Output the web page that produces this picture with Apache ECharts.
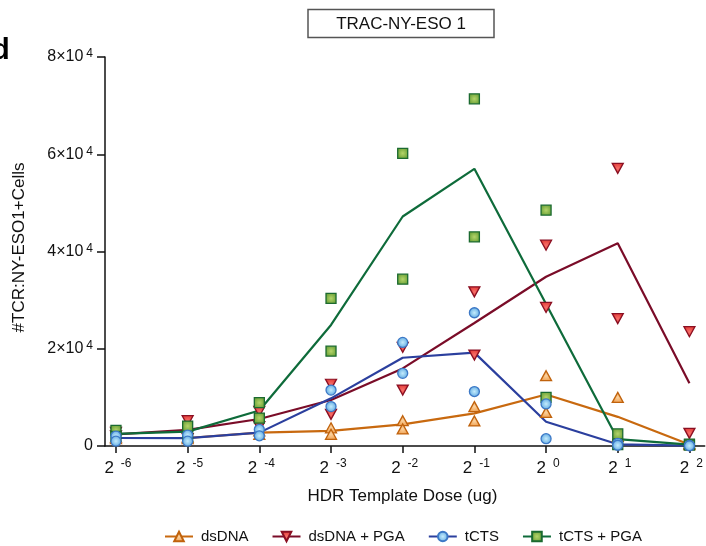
<!DOCTYPE html>
<html>
<head>
<meta charset="utf-8">
<script src="https://cdn.jsdelivr.net/npm/echarts@6/dist/echarts.min.js"></script>
<style>
  html, body { margin: 0; padding: 0; background: #fff; }
  #chart { width: 706px; height: 546px; }
</style>
</head>
<body>
<div id="chart"></div>
<script>
// HDR template dose, as powers of two (ug)
const doseExponents = [-6, -5, -4, -3, -2, -1, 0, 1, 2];

// Replicate counts of TCR:NY-ESO1+ cells (two donors per dose)
const dsDNA_rep1 = [1500, 1500, 2400, 3750, 5200, 8100, 14450, 10000, 500];
const dsDNA_rep2 = [1800, 1800, 3100, 2400, 3500, 5150, 6900, 2000, 300];
const dsDNA_mean = [1650, 1650, 2750, 3100, 4450, 6700, 10600, 6000, 300];

const dsPGA_rep1 = [2800, 5200, 7100, 12700, 20300, 31700, 41300, 57100, 23500];
const dsPGA_rep2 = [2100, 1500, 4000, 6500, 11500, 18700, 28500, 26200, 2600];
const dsPGA_mean = [2400, 3300, 5550, 9450, 15950, 25300, 34800, 41700, 12900];

const tCTS_rep1 = [2050, 2250, 3400, 11500, 21300, 27400, 8650, 550, 100];
const tCTS_rep2 = [1000, 1000, 2100, 8100, 14950, 11200, 1500, 150, 50];
const tCTS_mean = [1650, 1600, 2750, 9800, 18150, 19200, 5000, 350, 80];

const tPGA_rep1 = [3200, 4100, 8900, 30350, 60200, 71400, 48500, 2500, 400];
const tPGA_rep2 = [2000, 1900, 5750, 19500, 34300, 43000, 10000, 300, 200];
const tPGA_mean = [2500, 2950, 7300, 24900, 47200, 57000, 29200, 1400, 300];

const FONT = 'Liberation Sans, Arial, Helvetica, sans-serif';

function pairs(values) {
  return doseExponents.map((x, i) => [x, values[i]]);
}
function reps(a, b) {
  return pairs(a).concat(pairs(b));
}
function radial(inner, outer) {
  return {
    type: 'radial', x: 0.5, y: 0.5, r: 0.5,
    colorStops: [{ offset: 0, color: inner }, { offset: 1, color: outer }]
  };
}

const groups = [
  {
    name: 'dsDNA', mean: dsDNA_mean, r1: dsDNA_rep1, r2: dsDNA_rep2,
    line: '#C8690F', symbol: 'triangle', rotate: 0, size: [11, 10],
    fill: radial('#FBD3A0', '#F0A050'), border: '#C0620C', z: 3
  },
  {
    name: 'dsDNA + PGA', mean: dsPGA_mean, r1: dsPGA_rep1, r2: dsPGA_rep2,
    line: '#7A0C28', symbol: 'triangle', rotate: 180, size: [11, 10],
    fill: radial('#F7706A', '#E23A36'), border: '#8A0F22', z: 4
  },
  {
    name: 'tCTS', mean: tCTS_mean, r1: tCTS_rep1, r2: tCTS_rep2,
    line: '#2B3F9E', symbol: 'circle', rotate: 0, size: 10,
    fill: radial('#C4EBFC', '#5FAAE2'), border: '#3C78C6', z: 6
  },
  {
    name: 'tCTS + PGA', mean: tPGA_mean, r1: tPGA_rep1, r2: tPGA_rep2,
    line: '#0E6B3A', symbol: 'rect', rotate: 0, size: 10,
    fill: radial('#B4D46A', '#6FA43A'), border: '#1B6A30', z: 5
  }
];

const series = [];
groups.forEach(g => {
  // mean trend line (legend icon shows the line and its marker)
  series.push({
    name: g.name,
    type: 'line',
    data: pairs(g.mean),
    showSymbol: false,
    symbol: g.symbol,
    symbolRotate: g.rotate,
    lineStyle: { color: g.line, width: 2.2 },
    itemStyle: { color: g.fill, borderColor: g.border, borderWidth: 1.3 },
    z: 2,
    silent: true
  });
});
groups.forEach(g => {
  // individual replicate markers
  series.push({
    name: g.name,
    type: 'scatter',
    data: reps(g.r1, g.r2),
    symbol: g.symbol,
    symbolRotate: g.rotate,
    symbolSize: g.size,
    itemStyle: { color: g.fill, borderColor: g.border, borderWidth: 1.3, opacity: 1 },
    z: g.z,
    silent: true
  });
});

const chart = echarts.init(document.getElementById('chart'), null, { renderer: 'canvas' });

chart.setOption({
  animation: false,
  backgroundColor: '#fff',
  textStyle: { fontFamily: FONT, color: '#111' },
  grid: { left: 105, right: 0, top: 57, bottom: 100, containLabel: false },
  legend: {
    data: groups.map(g => g.name),
    left: 164,
    top: 529,
    padding: 0,
    itemWidth: 28,
    itemHeight: 12,
    itemGap: 23,
    textStyle: { fontFamily: FONT, fontSize: 15, color: '#111', padding: [0, 0, 0, 3] },
    selectedMode: false
  },
  xAxis: {
    type: 'value',
    min: -6.153,
    max: 2.213,
    name: 'HDR Template Dose (ug)',
    nameLocation: 'middle',
    nameGap: 42,
    nameTextStyle: { fontFamily: FONT, fontSize: 17, color: '#111', padding: [0, 5, 0, 0] },
    axisLine: { show: true, onZero: false, lineStyle: { color: '#111', width: 1.5 } },
    axisTick: { show: true, customValues: doseExponents, length: 7, lineStyle: { color: '#111', width: 1.5 } },
    splitLine: { show: false },
    axisLabel: {
      customValues: doseExponents,
      margin: 12,
      formatter: v => '{b|2}{s|' + v + '}',
      rich: {
        b: { fontFamily: FONT, fontSize: 17, color: '#111', lineHeight: 20, padding: [0, 0, 0, 4] },
        s: { fontFamily: FONT, fontSize: 12, color: '#111', lineHeight: 12, verticalAlign: 'top', padding: [0, 0, 0, 7] }
      }
    }
  },
  yAxis: {
    type: 'value',
    min: 0,
    max: 80000,
    interval: 20000,
    name: '#TCR:NY-ESO1+Cells',
    nameLocation: 'middle',
    nameGap: 77,
    nameTextStyle: { fontFamily: FONT, fontSize: 17, color: '#111', padding: [0, 0, 0, 8] },
    axisLine: { show: true, onZero: false, lineStyle: { color: '#111', width: 1.5 } },
    axisTick: { show: true, length: 8, lineStyle: { color: '#111', width: 1.5 } },
    splitLine: { show: false },
    axisLabel: {
      margin: 12,
      fontFamily: FONT,
      fontSize: 16,
      color: '#111',
      formatter: v => v === 0 ? '0' : '{b|' + (v / 10000) + '×10}{s|4}',
      rich: {
        b: { fontFamily: FONT, fontSize: 16, color: '#111', lineHeight: 18 },
        s: { fontFamily: FONT, fontSize: 12, color: '#111', lineHeight: 16, verticalAlign: 'top', padding: [0, 0, 0, 3] }
      }
    }
  },
  graphic: [
    {
      type: 'rect',
      shape: { x: 308, y: 9.5, width: 186, height: 28 },
      style: { fill: '#fff', stroke: '#555', lineWidth: 1.5 }
    },
    {
      type: 'text',
      x: 401, y: 24,
      style: { text: 'TRAC-NY-ESO 1', fontFamily: FONT, fontSize: 17, fill: '#111', align: 'center', verticalAlign: 'middle' }
    },
    {
      type: 'text',
      x: -8, y: 65,
      style: { text: 'd', fontFamily: FONT, fontSize: 29, fontWeight: 'bold', fill: '#000', align: 'left', verticalAlign: 'bottom' }
    }
  ],
  series: series
});
</script>
</body>
</html>
